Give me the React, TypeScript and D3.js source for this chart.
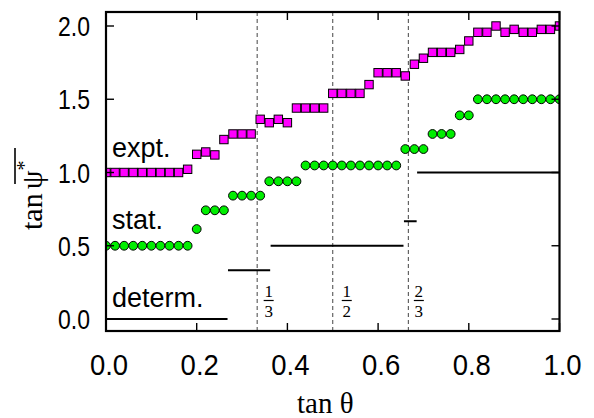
import React from "react";
import * as d3 from "d3";

// ---- data ----
const xStep = 0.02;
const exptValues = [
  1.0, 1.0, 1.0, 1.0, 1.0, 1.0, 1.0, 1.0, 1.0, 1.022,
  1.124, 1.14, 1.12, 1.225, 1.263, 1.263, 1.263, 1.363, 1.34, 1.363,
  1.34, 1.44, 1.44, 1.44, 1.44, 1.54, 1.54, 1.54, 1.54, 1.6,
  1.681, 1.681, 1.681, 1.659, 1.739, 1.78, 1.82, 1.82, 1.82, 1.84,
  1.898, 1.957, 1.957, 2.0, 1.957, 1.977, 1.957, 1.957, 1.977, 1.977,
  2.0,
];
const statValues = [
  0.5, 0.5, 0.5, 0.5, 0.5, 0.5, 0.5, 0.5, 0.5, 0.5,
  0.614, 0.742, 0.742, 0.742, 0.842, 0.842, 0.842, 0.842, 0.94, 0.94,
  0.94, 0.94, 1.048, 1.048, 1.048, 1.048, 1.048, 1.048, 1.048, 1.048,
  1.048, 1.048, 1.048, 1.16, 1.16, 1.16, 1.263, 1.263, 1.263, 1.39,
  1.39, 1.5, 1.5, 1.5, 1.5, 1.5, 1.5, 1.5, 1.5, 1.5,
  1.5,
];
// deterministic staircase segments: [x start, x end, y]
const determSegments: [number, number, number][] = [
  [0, 0.268, 0],
  [0.269, 0.362, 1 / 3],
  [0.363, 0.656, 0.5],
  [0.657, 0.685, 2 / 3],
  [0.686, 1.0, 1.0],
];
const fractionLines = [1 / 3, 1 / 2, 2 / 3];
const fractionNum = ["1", "1", "2"];
const fractionDen = ["3", "2", "3"];
const xTicks = [0, 0.2, 0.4, 0.6, 0.8, 1.0];
const xTickLabels = ["0.0", "0.2", "0.4", "0.6", "0.8", "1.0"];
const yTicks = [0, 0.5, 1.0, 1.5, 2.0];
const yTickLabels = ["0.0", "0.5", "1.0", "1.5", "2.0"];
const seriesLabels = ["expt.", "stat.", "determ."];

// ---- layout ----
const W = 594;
const H = 418;
const left = 106;
const right = 559.5;
const top = 12;
const bottom = 331;
const fracDx = [11.5, 14, 10.5];
const labelBaselines = [157, 229, 306.5];

const SANS = "'Liberation Sans', Arial, Helvetica, sans-serif";
const SERIF = "'Liberation Serif', 'Times New Roman', Times, serif";

export default function App() {
  const x = d3.scaleLinear().domain([0, 1]).range([left, right]);
  const y = d3.scaleLinear().domain([0, 2]).range([319, 26]);
  const tickLen = 8;

  const expt = exptValues.map((v, i) => ({ x: i * xStep, y: v }));
  const stat = statValues.map((v, i) => ({ x: i * xStep, y: v }));
  const sq = 8.4;

  return (
    <svg
      width={W}
      height={H}
      viewBox={`0 0 ${W} ${H}`}
      style={{ position: "absolute", left: 0, top: 0, background: "#fff" }}
    >
      <defs>
        <clipPath id="plotClip">
          <rect x={left} y={top} width={right - left} height={bottom - top} />
        </clipPath>
      </defs>
      <rect x={0} y={0} width={W} height={H} fill="#fff" />

      {/* dashed verticals */}
      {fractionLines.map((f, i) => (
        <line
          key={"dl" + i}
          x1={x(f)}
          x2={x(f)}
          y1={top}
          y2={bottom}
          stroke="#444"
          strokeWidth={1}
          strokeDasharray="4,3"
        />
      ))}

      {/* fractions */}
      {fractionLines.map((f, i) => {
        const cx = x(f) + fracDx[i];
        return (
          <g key={"fr" + i} fontFamily={SERIF} fontSize={17} textAnchor="middle" fill="#000">
            <text x={cx} y={296.5}>{fractionNum[i]}</text>
            <line x1={cx - 5} x2={cx + 5} y1={300.5} y2={300.5} stroke="#000" strokeWidth={1.2} />
            <text x={cx} y={317}>{fractionDen[i]}</text>
          </g>
        );
      })}

      <g clipPath="url(#plotClip)">
        {/* determ segments */}
        {determSegments.map((s, i) => (
          <line
            key={"ds" + i}
            x1={x(s[0])}
            x2={x(s[1])}
            y1={y(s[2])}
            y2={y(s[2])}
            stroke="#000"
            strokeWidth={2}
          />
        ))}
        {/* stat circles */}
        {stat.map((d, i) => (
          <circle
            key={"c" + i}
            cx={x(d.x)}
            cy={y(d.y)}
            r={4.4}
            fill="#00ee00"
            stroke="#000"
            strokeWidth={1}
          />
        ))}
        {/* expt squares */}
        {expt.map((d, i) => (
          <rect
            key={"s" + i}
            x={x(d.x) - sq / 2}
            y={y(d.y) - sq / 2}
            width={sq}
            height={sq}
            fill="#ff00ff"
            stroke="#000"
            strokeWidth={1}
          />
        ))}
      </g>

      {/* ticks inward */}
      {xTicks.map((t, i) => (
        <g key={"xt" + i} stroke="#000" strokeWidth={1.4}>
          <line x1={x(t)} x2={x(t)} y1={bottom} y2={bottom - tickLen} />
          <line x1={x(t)} x2={x(t)} y1={top} y2={top + tickLen} />
        </g>
      ))}
      {yTicks.map((t, i) => (
        <g key={"yt" + i} stroke="#000" strokeWidth={1.4}>
          <line x1={left} x2={left + tickLen} y1={y(t)} y2={y(t)} />
          <line x1={right} x2={right - tickLen} y1={y(t)} y2={y(t)} />
        </g>
      ))}

      {/* frame */}
      <rect
        x={left}
        y={top}
        width={right - left}
        height={bottom - top}
        fill="none"
        stroke="#000"
        strokeWidth={2.2}
      />

      {/* tick labels */}
      {xTicks.map((t, i) => (
        <text
          key={"xl" + i}
          transform={`translate(${x(t) + 3},374.5) scale(1,1.1)`}
          textAnchor="middle"
          fontFamily={SANS}
          fontSize={27.5}
          fill="#000"
        >
          {xTickLabels[i]}
        </text>
      ))}
      {yTicks.map((t, i) => (
        <text
          key={"yl" + i}
          transform={`translate(90,${y(t) + 10}) scale(1,1.22)`}
          textAnchor="end"
          fontFamily={SANS}
          fontSize={23}
          fill="#000"
        >
          {yTickLabels[i]}
        </text>
      ))}

      {/* series labels */}
      {seriesLabels.map((s, i) => (
        <text key={"sl" + i} x={112} y={labelBaselines[i]} fontFamily={SANS} fontSize={27} fill="#000">
          {s}
        </text>
      ))}

      {/* axis titles */}
      <text x={297} y={413} fontFamily={SERIF} fontSize={29} fill="#000">
        tan θ
      </text>
      <g transform="translate(42,230) rotate(-90)">
        <text x={0} y={0} fontFamily={SERIF} fontSize={30} fill="#000">
          tan
          <tspan dx={4}>ψ</tspan>
          <tspan dy={-11} fontSize={20}>*</tspan>
        </text>
        <line x1={46} x2={82} y1={-27} y2={-27} stroke="#000" strokeWidth={1.6} />
      </g>
    </svg>
  );
}
